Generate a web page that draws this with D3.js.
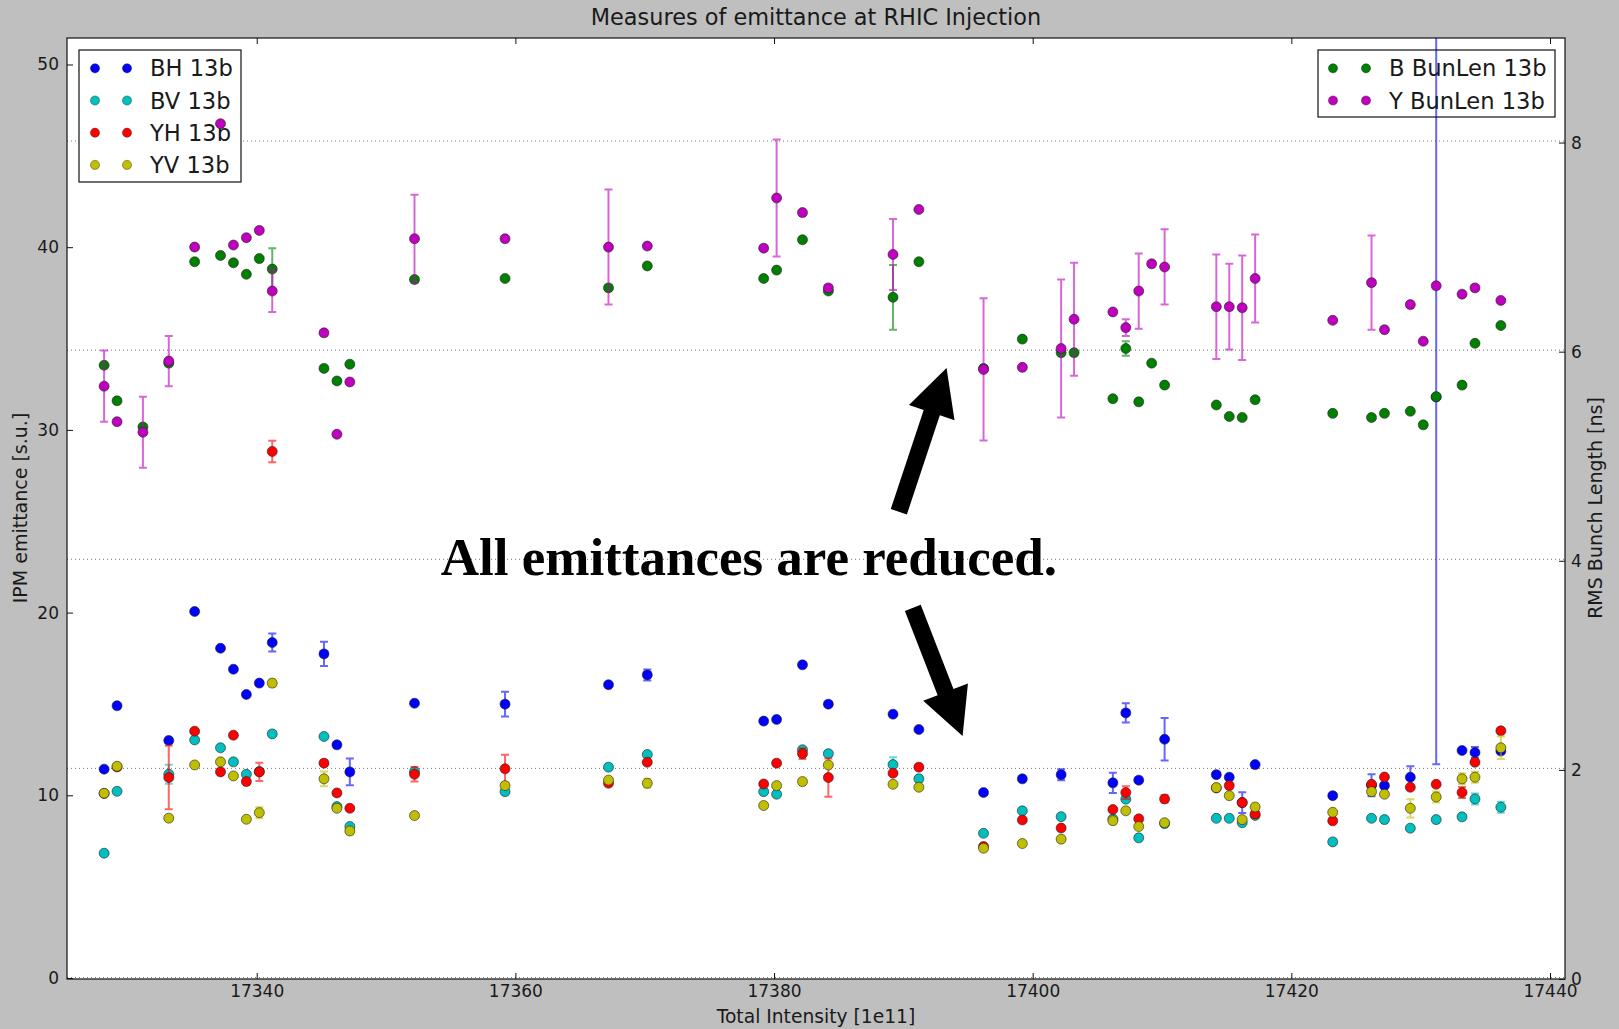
<!DOCTYPE html>
<html>
<head>
<meta charset="utf-8">
<script src="https://cdn.jsdelivr.net/npm/d3@7"></script>
<style>
  body { margin: 0; background: #bfbfbf; }
  text { font-family: "DejaVu Sans", sans-serif; fill: #1a1a1a; }
</style>
</head>
<body>
<div id="myPlot"></div>
<script>
// total intensity [1e11] for every measurement
const intensity = [17328.2, 17329.2, 17331.2, 17333.2, 17335.2, 17337.2, 17338.2, 17339.2, 17340.2, 17341.2,
  17345.2, 17346.2, 17347.2, 17352.2, 17359.2, 17367.2, 17370.2, 17379.2, 17380.2, 17382.2,
  17384.2, 17389.2, 17391.2, 17396.2, 17399.2, 17402.2, 17403.2, 17406.2, 17407.2, 17408.2,
  17409.2, 17410.2, 17414.2, 17415.2, 17416.2, 17417.2, 17423.2, 17426.2, 17427.2, 17429.2,
  17430.2, 17431.2, 17433.2, 17434.2, 17436.2];

// IPM emittance [s.u.] (left axis), null = no measurement
const bh = [11.43, 14.9, null, 13.0, 20.06, 18.05, 16.9, 15.52, 16.14, 18.36,
  17.74, 12.76, 11.28, 15.04, 14.99, 16.05, 16.59, 14.06, 14.15, 17.14,
  14.99, 14.44, 13.6, 10.15, 10.9, 11.13, null, 10.68, 14.51, 10.83,
  null, 13.07, 11.13, 10.99, 9.6, 11.68, 9.98, 10.55, 10.53, 10.99,
  null, 31.8, 12.45, 12.34, 12.42];
const bhErr = [0, 0, 0, 0.15, 0, 0, 0, 0, 0, 0.49,
  0.66, 0, 0.73, 0, 0.68, 0, 0.3, 0, 0, 0,
  0, 0, 0, 0, 0, 0.3, 0, 0.55, 0.53, 0,
  0, 1.16, 0, 0, 0.57, 0, 0, 0.6, 0, 0.6,
  0, 20.1, 0, 0.3, 0];

const bv = [6.83, 10.22, null, 11.15, 13.03, 12.6, 11.83, 11.15, 11.3, 13.36,
  13.22, 9.38, 8.29, 11.3, 10.2, 11.54, 12.23, 10.2, 10.06, 12.49,
  12.28, 11.68, 10.9, 7.92, 9.15, 8.83, null, 8.7, 9.79, 7.67,
  null, 8.45, 8.74, 8.74, 8.5, 8.9, 7.45, 8.74, 8.67, 8.2,
  null, 8.67, 8.82, 9.8, 9.35];
const bvErr = [0, 0, 0, 0.52, 0, 0, 0, 0, 0, 0,
  0, 0, 0, 0, 0, 0, 0, 0, 0, 0,
  0, 0.4, 0, 0, 0, 0, 0, 0, 0, 0,
  0, 0, 0, 0, 0, 0, 0, 0, 0, 0,
  0, 0, 0, 0.3, 0.3];

const yh = [10.1, 11.55, null, 10.97, 13.51, 11.28, 13.29, 10.75, 11.28, 28.82,
  11.76, 10.13, 9.29, 11.15, 11.45, 10.66, 11.81, 10.62, 11.76, 12.28,
  10.97, 11.21, 11.54, 7.2, 8.65, 8.21, null, 9.22, 10.15, 8.71,
  null, 9.8, 10.4, 10.53, 9.6, 8.98, 8.6, 10.6, 11.0, 10.44,
  null, 10.6, 10.15, 11.81, 13.53];
const yhErr = [0, 0, 0, 1.74, 0, 0, 0, 0, 0.5, 0.59,
  0, 0, 0, 0.4, 0.77, 0, 0, 0, 0, 0.3,
  1.05, 0, 0, 0, 0, 0, 0, 0, 0.35, 0,
  0, 0.2, 0, 0, 0, 0.2, 0, 0, 0, 0,
  0, 0, 0.3, 0, 0];

const yv = [10.11, 11.59, null, 8.75, 11.66, 11.83, 11.06, 8.69, 9.05, 16.14,
  10.9, 9.29, 8.05, 8.89, 10.53, 10.83, 10.66, 9.44, 10.53, 10.75,
  11.66, 10.6, 10.44, 7.1, 7.36, 7.6, null, 8.61, 9.15, 8.29,
  null, 8.5, 10.42, 9.98, 8.67, 9.36, 9.07, 10.2, 10.06, 9.29,
  null, 9.91, 10.9, 10.99, 12.6];
const yvErr = [0, 0, 0, 0, 0, 0, 0, 0, 0.3, 0.2,
  0.4, 0, 0.2, 0, 0, 0, 0.25, 0, 0, 0,
  0, 0, 0, 0, 0, 0, 0, 0.2, 0, 0,
  0, 0, 0, 0, 0, 0, 0, 0, 0, 0.5,
  0, 0.3, 0.3, 0.3, 0.62];

// RMS bunch length [ns] (right axis)
const bBunLen = [5.87, 5.53, 5.28, 5.89, 6.86, 6.92, 6.85, 6.74, 6.89, 6.79,
  5.84, 5.72, 5.88, 6.69, 6.70, 6.61, 6.82, 6.70, 6.78, 7.07,
  6.58, 6.52, 6.86, 5.84, 6.12, 5.99, 5.99, 5.55, 6.03, 5.52,
  5.89, 5.68, 5.49, 5.38, 5.37, 5.54, 5.41, 5.37, 5.41, 5.43,
  5.30, 5.57, 5.68, 6.08, 6.25];
const bBunLenErr = [0, 0, 0, 0, 0, 0, 0, 0, 0, 0.2,
  0, 0, 0, 0, 0, 0, 0, 0, 0, 0,
  0, 0.31, 0, 0, 0, 0, 0, 0, 0.07, 0,
  0, 0, 0, 0, 0, 0, 0, 0, 0, 0,
  0, 0, 0, 0, 0];

const yBunLen = [5.67, 5.33, 5.23, 5.91, 7.0, 8.18, 7.02, 7.09, 7.16, 6.58,
  6.18, 5.21, 5.71, 7.08, 7.08, 7.0, 7.01, 6.99, 7.47, 7.33,
  6.61, 6.93, 7.36, 5.83, 5.85, 6.03, 6.31, 6.38, 6.23, 6.58,
  6.84, 6.81, 6.43, 6.43, 6.42, 6.70, 6.30, 6.66, 6.21, 6.45,
  6.10, 6.63, 6.55, 6.61, 6.49];
const yBunLenErr = [0.34, 0, 0.34, 0.24, 0, 0, 0, 0, 0, 0.2,
  0, 0, 0, 0.42, 0, 0.55, 0, 0, 0.56, 0,
  0, 0.34, 0, 0.68, 0, 0.66, 0.54, 0, 0.08, 0.36,
  0, 0.36, 0.5, 0.41, 0.5, 0.42, 0, 0.45, 0, 0,
  0, 0, 0, 0, 0];

const xTicks = [17340, 17360, 17380, 17400, 17420, 17440];
const leftTicks = [0, 10, 20, 30, 40, 50];
const rightTicks = [0, 2, 4, 6, 8];

const leftSeries = [
  {name: "BH 13b", values: bh, errors: bhErr, color: "#0000ff"},
  {name: "BV 13b", values: bv, errors: bvErr, color: "#00bfbf"},
  {name: "YH 13b", values: yh, errors: yhErr, color: "#ff0000"},
  {name: "YV 13b", values: yv, errors: yvErr, color: "#bfbf00"}
];
const rightSeries = [
  {name: "B BunLen 13b", values: bBunLen, errors: bBunLenErr, color: "#008000"},
  {name: "Y BunLen 13b", values: yBunLen, errors: yBunLenErr, color: "#bf00bf"}
];

const width = 1619;
const height = 1029;
const marginTop = 38;
const marginLeft = 67;
const plotRight = 1565;
const plotBottom = 979;

const x = d3.scaleLinear().domain([17325.33, 17441.16]).range([marginLeft, plotRight]);
const y = d3.scaleLinear().domain([-0.055, 51.45]).range([plotBottom, marginTop]);
const y2 = d3.scaleLinear().domain([0, 9]).range([plotBottom, marginTop]);

const svg = d3.select("#myPlot")
  .append("svg")
  .attr("width", width)
  .attr("height", height)
  .attr("viewBox", [0, 0, width, height]);

svg.append("rect").attr("width", width).attr("height", height).attr("fill", "#bfbfbf");
svg.append("rect")
  .attr("x", marginLeft).attr("y", marginTop)
  .attr("width", plotRight - marginLeft).attr("height", plotBottom - marginTop)
  .attr("fill", "white");

svg.append("clipPath").attr("id", "plotclip")
  .append("rect")
  .attr("x", marginLeft).attr("y", marginTop)
  .attr("width", plotRight - marginLeft).attr("height", plotBottom - marginTop);

// grid from the right axis
svg.append("g")
  .selectAll("line")
  .data(rightTicks)
  .join("line")
  .attr("x1", marginLeft).attr("x2", plotRight)
  .attr("y1", d => y2(d) - 1.5).attr("y2", d => y2(d) - 1.5)
  .attr("stroke", "#777")
  .attr("stroke-width", 1)
  .attr("stroke-dasharray", "1,3");

function drawSeries(g, s, yScale) {
  const pts = intensity.map((d, i) => ({x: d, v: s.values[i], e: s.errors[i]}))
    .filter(d => d.v != null);
  g.append("g")
    .attr("stroke", s.color)
    .attr("stroke-opacity", 0.6)
    .attr("stroke-width", 2)
    .attr("fill", "none")
    .selectAll("path")
    .data(pts.filter(d => d.e > 0))
    .join("path")
    .attr("d", d => {
      const px = x(d.x), lo = yScale(d.v - d.e), hi = yScale(d.v + d.e);
      return `M${px},${lo}V${hi}M${px - 4},${lo}H${px + 4}M${px - 4},${hi}H${px + 4}`;
    });
  g.append("g")
    .selectAll("circle")
    .data(pts)
    .join("circle")
    .attr("cx", d => x(d.x))
    .attr("cy", d => yScale(d.v))
    .attr("r", 5)
    .attr("fill", s.color)
    .attr("stroke", "#222")
    .attr("stroke-width", 0.6);
}

const leftG = svg.append("g").attr("clip-path", "url(#plotclip)");
leftSeries.forEach(s => drawSeries(leftG, s, y));

function drawLegend(series, box, markerX, textX, fill) {
  const lg = svg.append("g");
  lg.append("rect")
    .attr("x", box[0]).attr("y", box[1])
    .attr("width", box[2] - box[0]).attr("height", box[3] - box[1])
    .attr("fill", fill)
    .attr("stroke", "#111")
    .attr("stroke-width", 1.2);
  series.forEach((s, i) => {
    const cy = box[1] + 18.3 + i * 32.2;
    markerX.forEach(mx => lg.append("circle")
      .attr("cx", mx).attr("cy", cy).attr("r", 4.6)
      .attr("fill", s.color).attr("stroke", "#222").attr("stroke-width", 0.4));
    lg.append("text")
      .attr("x", textX).attr("y", cy + 8)
      .style("font-size", "22.6px")
      .text(s.name);
  });
}

drawLegend(leftSeries, [79, 50, 241, 182], [95, 127], 150, "white");

const rightG = svg.append("g").attr("clip-path", "url(#plotclip)");
rightSeries.forEach(s => drawSeries(rightG, s, y2));

drawLegend(rightSeries, [1318, 50, 1555, 117], [1333, 1366], 1389, "none");

// frame
svg.append("rect")
  .attr("x", marginLeft).attr("y", marginTop)
  .attr("width", plotRight - marginLeft).attr("height", plotBottom - marginTop)
  .attr("fill", "none")
  .attr("stroke", "#111")
  .attr("stroke-width", 1.2);

// axes
svg.append("g")
  .attr("transform", `translate(0,${plotBottom})`)
  .style("font-size", "17px")
  .call(d3.axisBottom(x).tickValues(xTicks).tickFormat(d3.format("d")).tickSize(-6).tickPadding(6))
  .call(g => g.select(".domain").remove());

svg.append("g")
  .attr("transform", `translate(0,${marginTop})`)
  .call(d3.axisTop(x).tickValues(xTicks).tickFormat("").tickSize(-6))
  .call(g => g.select(".domain").remove());

svg.append("g")
  .attr("transform", `translate(${marginLeft},0)`)
  .style("font-size", "17px")
  .call(d3.axisLeft(y).tickValues(leftTicks).tickSize(-6).tickPadding(8))
  .call(g => g.select(".domain").remove());

svg.append("g")
  .attr("transform", `translate(${plotRight},0)`)
  .style("font-size", "17px")
  .call(d3.axisRight(y2).tickValues(rightTicks).tickSize(-6).tickPadding(6))
  .call(g => g.select(".domain").remove());

svg.selectAll(".tick text").attr("fill", "#1a1a1a").style("font-family", "DejaVu Sans");
svg.selectAll(".tick line").attr("stroke", "#111");

// titles
svg.append("text")
  .attr("x", 816).attr("y", 25)
  .attr("text-anchor", "middle")
  .style("font-size", "22.4px")
  .text("Measures of emittance at RHIC Injection");

svg.append("text")
  .attr("x", 816).attr("y", 1023)
  .attr("text-anchor", "middle")
  .style("font-size", "18.7px")
  .text("Total Intensity [1e11]");

svg.append("text")
  .attr("transform", "translate(27,508) rotate(-90)")
  .attr("text-anchor", "middle")
  .style("font-size", "19px")
  .text("IPM emittance [s.u.]");

svg.append("text")
  .attr("transform", "translate(1602,508) rotate(-90)")
  .attr("text-anchor", "middle")
  .style("font-size", "19px")
  .text("RMS Bunch Length [ns]");

// annotation with two arrows, placed in data coordinates of the left axis
function arrow(x0, y0, x1, y1) {
  const ax = x(x0), ay = y(y0), bx = x(x1), by = y(y1);
  const len = Math.hypot(bx - ax, by - ay);
  const ux = (bx - ax) / len, uy = (by - ay) / len;
  const nx = -uy, ny = ux;
  const shaftW = 8.5, headW = 24, headL = 47;
  const hx = bx - ux * headL, hy = by - uy * headL;
  const p = [
    [ax + nx * shaftW, ay + ny * shaftW],
    [hx + nx * shaftW, hy + ny * shaftW],
    [hx + nx * headW, hy + ny * headW],
    [bx, by],
    [hx - nx * headW, hy - ny * headW],
    [hx - nx * shaftW, hy - ny * shaftW],
    [ax - nx * shaftW, ay - ny * shaftW]
  ];
  svg.append("path")
    .attr("d", d3.line()(p) + "Z")
    .attr("fill", "black");
}
arrow(17389.65, 25.52, 17393.34, 33.39);
arrow(17390.73, 20.26, 17394.58, 13.25);

svg.append("text")
  .attr("x", x(17354.23)).attr("y", y(22.07))
  .style("font-family", "'Liberation Serif', 'Times New Roman', serif")
  .style("font-weight", "bold")
  .style("font-size", "53px")
  .style("fill", "black")
  .text("All emittances are reduced.");
</script>
</body>
</html>
